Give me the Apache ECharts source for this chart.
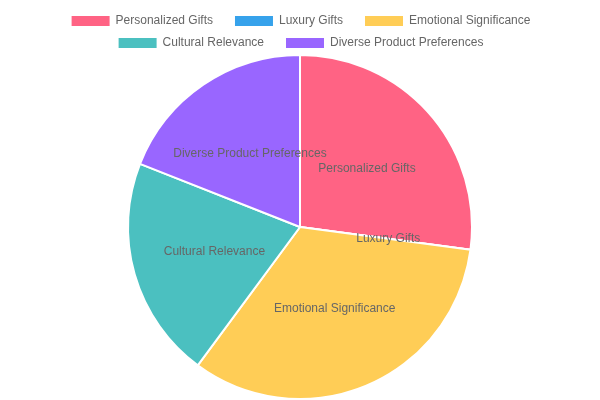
<!DOCTYPE html>
<html>
<head>
<meta charset="utf-8">
<script src="https://cdn.jsdelivr.net/npm/echarts@6/dist/echarts.min.js"></script>
<style>html,body{margin:0;padding:0;background:#fff}#main{width:600px;height:400px}</style>
</head>
<body>
<div id="main"></div>
<script>
// categories and values
var categories = ['Personalized Gifts', 'Luxury Gifts', 'Emotional Significance', 'Cultural Relevance', 'Diverse Product Preferences']
var values = [78, 0, 95, 60, 54.7]
var colors = ['#ff6384', '#36a2eb', '#ffcd56', '#4bc0c0', '#9966ff']

var chart = echarts.init(document.getElementById('main'))
var legendBase = {
  icon: 'rect',
  itemWidth: 40,
  itemHeight: 12,
  itemGap: 20,
  textStyle: { color: '#666', fontSize: 12, fontFamily: 'Liberation Sans, Arial' }
}
chart.setOption({
  color: colors,
  animation: false,
  legend: [
    Object.assign({ top: 9, data: categories.slice(0, 3) }, legendBase),
    Object.assign({ top: 31, data: categories.slice(3) }, legendBase)
  ],
  series: [{
    type: 'pie',
    center: [300, 227],
    radius: 172,
    startAngle: 90,
    clockwise: true,
    itemStyle: { borderColor: '#fff', borderWidth: 2 },
    label: { position: 'inside', color: '#666', fontSize: 12, fontFamily: 'Liberation Sans, Arial' },
    labelLine: { show: false },
    data: categories.map(function (c, i) { return { name: c, value: values[i] } })
  }]
})
</script>
</body>
</html>
